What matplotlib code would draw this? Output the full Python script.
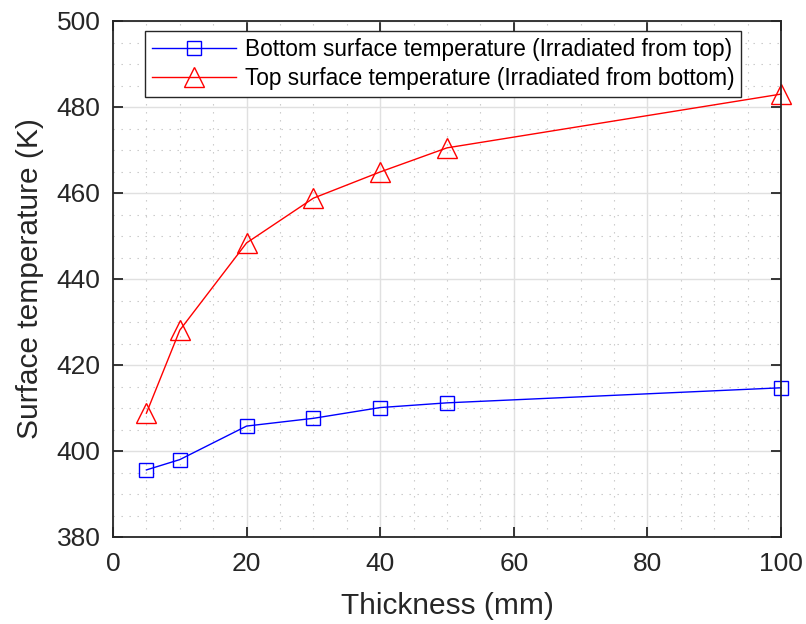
import matplotlib
matplotlib.use('Agg')
import matplotlib.pyplot as plt
from matplotlib.ticker import MultipleLocator

plt.rcParams['font.family'] = ['Liberation Sans', 'DejaVu Sans']

thickness = [5, 10, 20, 30, 40, 50, 100]
bottom_temp = [395.6, 398.0, 405.8, 407.6, 410.1, 411.2, 414.7]
top_temp = [408.8, 428.1, 448.4, 458.8, 464.9, 470.5, 483.0]

fig = plt.figure(figsize=(8.06, 6.24), dpi=100)
ax = fig.add_axes([113 / 806, 87 / 624, 668 / 806, 516 / 624])

ax.plot(thickness, bottom_temp, color='#0000ff', lw=1.0, marker='s', ms=10.5,
        mfc='none', mec='#0000ff', mew=1.0, clip_on=False,
        label='Bottom surface temperature (Irradiated from top)')
ax.plot(thickness, top_temp, color='#ff0000', lw=1.0, marker='^', ms=14,
        mfc='none', mec='#ff0000', mew=1.0, clip_on=False,
        label='Top surface temperature (Irradiated from bottom)')

ax.set_xlim(0, 100)
ax.set_ylim(380, 500)
ax.xaxis.set_major_locator(MultipleLocator(20))
ax.xaxis.set_minor_locator(MultipleLocator(5))
ax.yaxis.set_major_locator(MultipleLocator(20))
ax.yaxis.set_minor_locator(MultipleLocator(5))

ax.grid(True, which='major', color='#e0e0e0', lw=1.0)
ax.grid(True, which='minor', color='#c4c4c4', lw=0.8, ls=(0, (1.2, 6)))
ax.set_axisbelow(True)

txt = '#262626'
for s in ax.spines.values():
    s.set_color(txt)
    s.set_linewidth(1.3)
ax.tick_params(which='major', direction='in', length=7, width=1.3, colors=txt,
               labelsize=19, top=True, right=True)
ax.tick_params(axis='x', which='major', pad=11)
ax.tick_params(axis='y', which='major', pad=9)
ax.tick_params(which='minor', length=0, top=True, right=True)

ax.set_xlabel('Thickness (mm)', fontsize=21.5, color=txt, labelpad=11)
ax.set_ylabel('Surface temperature (K)', fontsize=21.5, color=txt, labelpad=9)

leg = ax.legend(loc='upper left', bbox_to_anchor=(0.048, 0.981), fontsize=16.3,
                handlelength=3.7, fancybox=False, framealpha=1,
                edgecolor='#262626', borderpad=0.3, labelspacing=0.3,
                handletextpad=0.4, borderaxespad=0)
leg.get_frame().set_linewidth(1.0)

fig.savefig('out.png', dpi=100)
